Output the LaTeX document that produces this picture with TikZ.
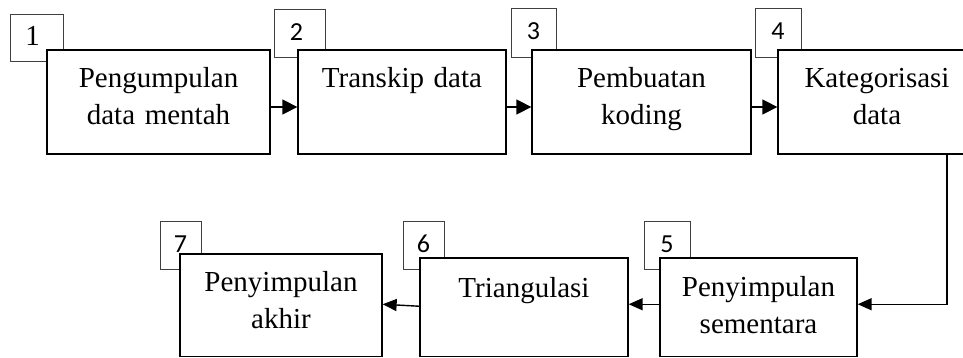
\documentclass[tikz,border=0pt]{standalone}
\usepackage{fontspec}
\setmainfont{Liberation Serif}
\newfontfamily\numfont{Carlito}
\usetikzlibrary{arrows.meta}
\begin{document}
\begin{tikzpicture}[x=1pt,y=-1pt,
  mainbox/.style={draw=black, line width=1.3pt, fill=white, inner sep=0pt},
  numbox/.style={draw=black!75, line width=1pt, fill=white, inner sep=0pt},
  txt/.style={anchor=base, inner sep=0pt, text width=200pt, align=center,
    font=\fontsize{29}{37.5}\selectfont},
  num/.style={anchor=base, inner sep=0pt, font=\numfont\fontsize{26}{30}\selectfont},
  numserif/.style={anchor=base, inner sep=0pt, font=\fontsize{29}{32}\selectfont},
  flow/.style={line width=1.4pt, -{Triangle[length=15pt,width=15pt]}},
  flowb/.style={line width=1.4pt, -{Triangle[length=14pt,width=12pt]}}
]
\clip (0,0) rectangle (963,358);
\fill[white] (0,0) rectangle (963,358);
% number boxes
\node[numbox, minimum width=53pt, minimum height=47pt] (l1) at (36.5,38.5) {};
\node[numbox, minimum width=51pt, minimum height=48pt] (l2) at (299.5,34) {};
\node[numbox, minimum width=45pt, minimum height=49pt] (l3) at (533.5,33.5) {};
\node[numbox, minimum width=46pt, minimum height=49pt] (l4) at (778,33.5) {};
\node[numbox, minimum width=46pt, minimum height=48pt] (l5) at (667,245) {};
\node[numbox, minimum width=41pt, minimum height=48pt] (l6) at (423.5,245) {};
\node[numbox, minimum width=41pt, minimum height=48pt] (l7) at (180.5,245) {};
\node[numserif] (n1) at ([xshift=-4pt,yshift=-31.5pt]l1.north) {1};
\node[num] (n2) at ([xshift=-3pt,yshift=-31.5pt]l2.north) {2};
\node[num] (n3) at ([yshift=-31.5pt]l3.north) {3};
\node[num] (n4) at ([yshift=-31.5pt]l4.north) {4};
\node[num] (n5) at ([yshift=-31.5pt]l5.north) {5};
\node[num] (n6) at ([yshift=-31.5pt]l6.north) {6};
\node[num] (n7) at ([yshift=-31.5pt]l7.north) {7};
% main boxes
\node[mainbox, minimum width=223pt, minimum height=104pt] (b1) at (158.5,102) {};
\node[mainbox, minimum width=208pt, minimum height=104pt] (b2) at (402,102) {};
\node[mainbox, minimum width=219pt, minimum height=104pt] (b3) at (641.5,102) {};
\node[mainbox, minimum width=198pt, minimum height=104pt] (b4) at (877,102) {};
\node[mainbox, minimum width=197pt, minimum height=98.5pt] (b5) at (758.5,307.25) {};
\node[mainbox, minimum width=208pt, minimum height=98.5pt] (b6) at (524,307.25) {};
\node[mainbox, minimum width=202pt, minimum height=102.5pt] (b7) at (281,305.25) {};
% texts
\node[txt] (t1) at ([yshift=-38pt]b1.north) {Pengumpulan\\data mentah};
\node[txt] (t2) at ([yshift=-38pt]b2.north) {Transkip data};
\node[txt] (t3) at ([yshift=-38pt]b3.north) {Pembuatan\\koding};
\node[txt] (t4) at ([yshift=-38pt]b4.north) {Kategorisasi\\data};
\node[txt] (t5) at ([yshift=-39pt]b5.north) {Penyimpulan\\sementara};
\node[txt] (t6) at ([yshift=-40pt]b6.north) {Triangulasi};
\node[txt] (t7) at ([yshift=-38pt]b7.north) {Penyimpulan\\akhir};
% connectors
\draw[flow] ([yshift=-5pt]b1.east) -- ([yshift=-5pt]b2.west);
\draw[flow] ([yshift=-5pt]b2.east) -- ([yshift=-5pt]b3.west);
\draw[flow] ([yshift=-5pt]b3.east) -- ([yshift=-5pt]b4.west);
\draw[flowb] ([xshift=70pt]b4.south) |- ([yshift=3pt]b5.east);
\draw[flowb] ([yshift=3pt]b5.west) -- ([yshift=3pt]b6.east);
\draw[flowb] ([yshift=1pt]b6.west) -- ([yshift=1pt]b7.east);
\end{tikzpicture}
\end{document}
